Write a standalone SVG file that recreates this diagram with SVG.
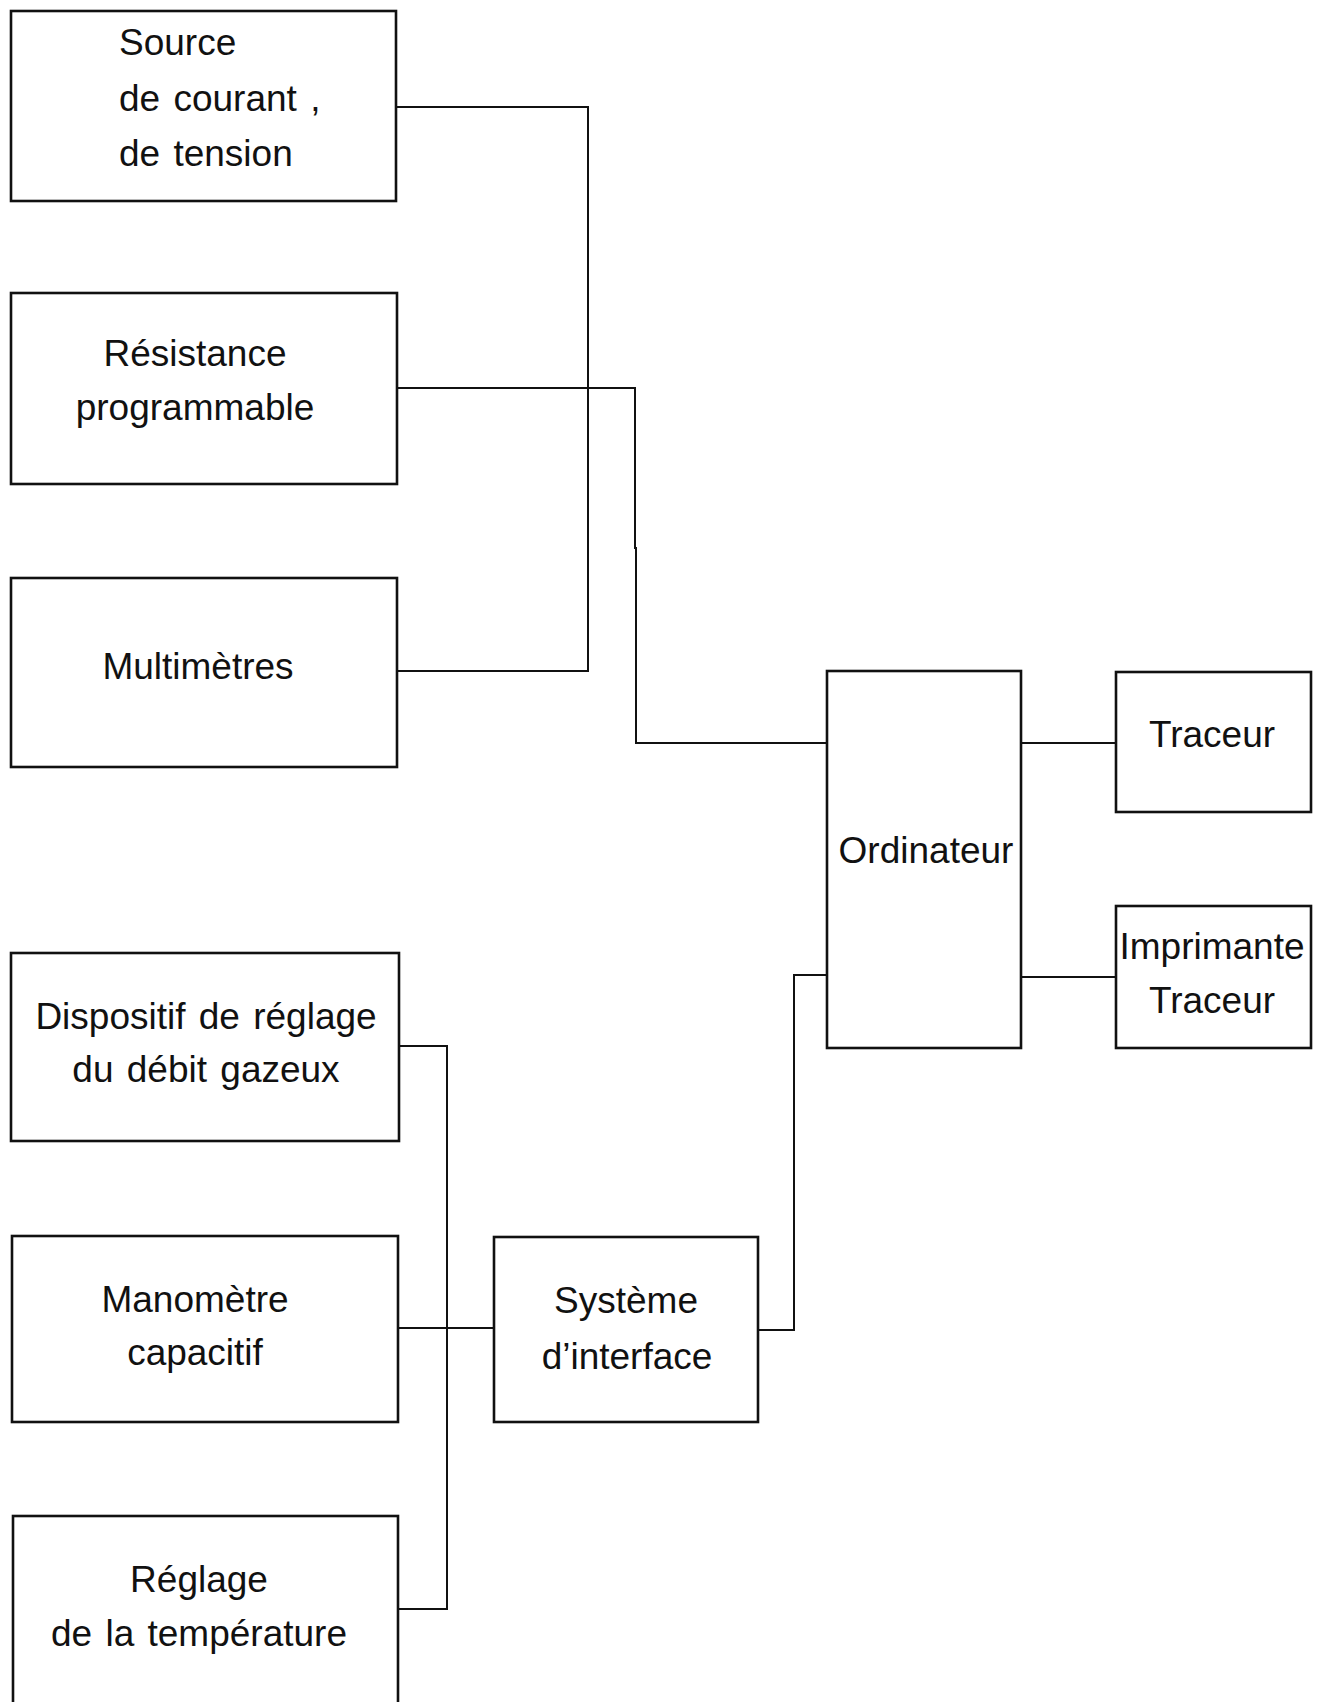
<svg xmlns="http://www.w3.org/2000/svg" width="1325" height="1702" viewBox="0 0 1325 1702">
<style>
.box{fill:#fff;stroke:#111;stroke-width:2.6}
.wire{fill:none;stroke:#111;stroke-width:2;stroke-linejoin:miter;stroke-linecap:square}
text{font-family:"Liberation Sans",Arial,sans-serif;font-size:37px;word-spacing:3px;fill:#111}
.c{text-anchor:middle}
</style>
<rect width="1325" height="1702" fill="#fff"/>
<g id="connectors">
<polyline class="wire" points="396,107 588,107 588,671 397,671"/>
<polyline class="wire" points="397,388 635,388 635,548 636,548 636,743 827,743"/>
<line class="wire" x1="1021" y1="743" x2="1116" y2="743"/>
<line class="wire" x1="1021" y1="977" x2="1116" y2="977"/>
<polyline class="wire" points="399,1046 447,1046 447,1609 398,1609"/>
<line class="wire" x1="398" y1="1328" x2="494" y2="1328"/>
<polyline class="wire" points="758,1330 794,1330 794,975 827,975"/>
</g>
<g id="source">
<rect class="box" x="11" y="11" width="385" height="190"/>
<text x="119" y="55">Source</text>
<text x="119" y="111">de courant ,</text>
<text x="119" y="166">de tension</text>
</g>
<g id="resistance">
<rect class="box" x="11" y="293" width="386" height="191"/>
<text class="c" x="195" y="366">Résistance</text>
<text class="c" x="195" y="420">programmable</text>
</g>
<g id="multimetres">
<rect class="box" x="11" y="578" width="386" height="189"/>
<text class="c" x="198" y="679">Multimètres</text>
</g>
<g id="dispositif">
<rect class="box" x="11" y="953" width="388" height="188"/>
<text class="c" x="206" y="1029">Dispositif de réglage</text>
<text class="c" x="206" y="1082">du débit gazeux</text>
</g>
<g id="manometre">
<rect class="box" x="12" y="1236" width="386" height="186"/>
<text class="c" x="195" y="1312">Manomètre</text>
<text class="c" x="195" y="1365">capacitif</text>
</g>
<g id="reglage">
<rect class="box" x="13" y="1516" width="385" height="200"/>
<text class="c" x="199" y="1592">Réglage</text>
<text class="c" x="199" y="1646">de la température</text>
</g>
<g id="interface">
<rect class="box" x="494" y="1237" width="264" height="185"/>
<text class="c" x="626" y="1313">Système</text>
<text class="c" x="627" y="1369">d’interface</text>
</g>
<g id="ordinateur">
<rect class="box" x="827" y="671" width="194" height="377"/>
<text class="c" x="926" y="863">Ordinateur</text>
</g>
<g id="traceur">
<rect class="box" x="1116" y="672" width="195" height="140"/>
<text class="c" x="1212" y="747">Traceur</text>
</g>
<g id="imprimante">
<rect class="box" x="1116" y="906" width="195" height="142"/>
<text class="c" x="1212" y="959">Imprimante</text>
<text class="c" x="1212" y="1013">Traceur</text>
</g>
</svg>
